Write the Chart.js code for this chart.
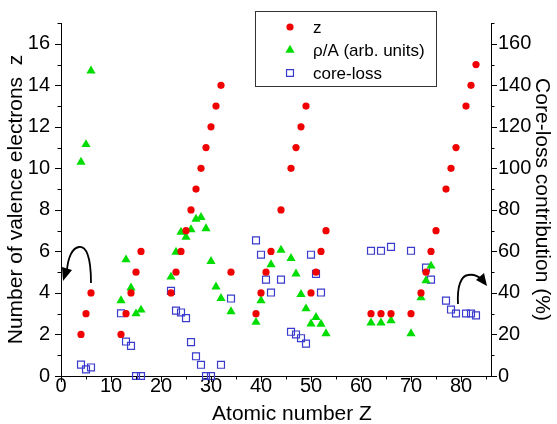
<!DOCTYPE html>
<html>
<head>
<meta charset="utf-8">
<script src="https://cdn.jsdelivr.net/npm/chart.js@4.4.1/dist/chart.umd.min.js"></script>
<style>
  html, body { margin: 0; padding: 0; background: #fff; }
</style>
</head>
<body>
<canvas id="myChart" width="557" height="424"></canvas>
<script>
// Valence electrons z (left axis)
var zAtomic = [4, 5, 6, 12, 13, 14, 15, 16, 22, 23, 24, 25, 26, 27, 28, 29, 30, 31, 32, 34, 39, 40, 41, 42, 44, 46, 47, 48, 49, 50, 51, 52, 53, 62, 64, 66, 70, 72, 73, 74, 75, 77, 78, 79, 81, 82, 83];
var zValues = [2, 3, 4, 2, 3, 4, 5, 6, 4, 5, 6, 7, 8, 9, 10, 11, 12, 13, 14, 5, 3, 4, 5, 6, 8, 10, 11, 12, 13, 4, 5, 6, 7, 3, 3, 3, 3, 4, 5, 6, 7, 9, 10, 11, 13, 14, 15];

// rho/A in arbitrary units (left axis)
var rhoAtomic = [4, 5, 6, 12, 13, 14, 15, 16, 22, 23, 24, 25, 26, 27, 28, 29, 30, 31, 32, 34, 39, 40, 42, 44, 46, 47, 48, 49, 50, 51, 52, 53, 62, 64, 66, 70, 72, 73, 74];
var rhoValues = [10.3, 11.15, 14.7, 3.63, 5.6, 4.25, 3.0, 3.18, 4.77, 5.97, 6.93, 6.69, 7.05, 7.56, 7.64, 7.1, 5.52, 4.29, 3.74, 3.1, 2.59, 3.63, 5.37, 6.06, 5.67, 4.92, 3.93, 3.24, 2.51, 2.83, 2.5, 2.04, 2.56, 2.56, 2.67, 2.04, 3.77, 4.6, 5.3];

// Core-loss contribution in % (right axis)
var coreAtomic = [4, 5, 6, 12, 13, 14, 15, 16, 22, 23, 24, 25, 26, 27, 28, 29, 30, 32, 34, 39, 40, 41, 42, 44, 46, 47, 48, 49, 50, 51, 52, 62, 64, 66, 70, 73, 74, 77, 78, 79, 81, 82, 83];
var coreValues = [5.5, 3.2, 4.1, 30.2, 16.6, 14.5, 0, 0, 41, 31.5, 30.6, 27.9, 16.3, 9.5, 5.4, 0, 0, 5.4, 37.3, 65.3, 58.4, 46.4, 40.2, 46.4, 21.3, 20, 18.2, 15.6, 58.4, 49.2, 40.2, 60.3, 60.3, 62.2, 60.3, 52.2, 46.4, 36.3, 32, 30.1, 30.1, 30.1, 29.2];

var seriesLabels = ['z', '\u03C1/A (arb. units)', 'core-loss'];
var xTitle = 'Atomic number Z';
var yTitle = 'Number of valence electrons  z';
var y2Title = 'Core-loss contribution (%)';

var FONT = "'Liberation Sans', Arial, sans-serif";
var RED = '#f00000';
var GREEN = '#00dd00';
var BLUE = '#3a3acc';

function toPoints(xs, ys) {
  var pts = [];
  for (var i = 0; i < xs.length; i++) {
    pts.push({ x: xs[i], y: ys[i] });
  }
  return pts;
}

var pointOpts = [
  { pointStyle: 'circle', radius: 3.6, fill: RED, stroke: RED, borderWidth: 0 },
  { pointStyle: 'triangle', radius: 5.3, fill: GREEN, stroke: GREEN, borderWidth: 0 },
  { pointStyle: 'rect', radius: 4.9, fill: 'rgba(0,0,0,0)', stroke: BLUE, borderWidth: 1.2 }
];

// Minor ticks, arrows, legend box and x axis title
var extras = {
  id: 'extras',
  afterDraw: function (chart) {
    var ctx = chart.ctx;
    var xs = chart.scales.x, ys = chart.scales.y, ys2 = chart.scales.y2;
    var area = chart.chartArea;
    var v, p, len;
    ctx.save();
    ctx.strokeStyle = '#000';
    ctx.lineWidth = 1;
    ctx.beginPath();
    for (v = 0; v <= 85; v += 5) {
      p = Math.round(xs.getPixelForValue(v)) + 0.5;
      len = v % 10 === 0 ? 6 : 3.5;
      ctx.moveTo(p, area.bottom);
      ctx.lineTo(p, area.bottom + len);
    }
    for (v = 0; v <= 17; v += 1) {
      p = Math.round(ys.getPixelForValue(v)) + 0.5;
      len = v % 2 === 0 ? 6 : 3.5;
      ctx.moveTo(area.left, p);
      ctx.lineTo(area.left - len, p);
    }
    for (v = 0; v <= 170; v += 10) {
      p = Math.round(ys2.getPixelForValue(v)) + 0.5;
      len = v % 20 === 0 ? 6 : 3.5;
      ctx.moveTo(area.right, p);
      ctx.lineTo(area.right + len, p);
    }
    ctx.stroke();

    // curved arrows pointing to each axis
    ctx.lineWidth = 1.8;
    ctx.beginPath();
    ctx.moveTo(91, 283);
    ctx.bezierCurveTo(91, 256, 86, 246, 79, 247);
    ctx.bezierCurveTo(72, 248, 68, 258, 67, 270);
    ctx.stroke();
    ctx.fillStyle = '#000';
    ctx.beginPath();
    ctx.moveTo(63, 281);
    ctx.lineTo(62, 267);
    ctx.lineTo(72, 270);
    ctx.closePath();
    ctx.fill();

    ctx.beginPath();
    ctx.moveTo(458, 304);
    ctx.bezierCurveTo(457, 286, 461, 276, 468, 275);
    ctx.bezierCurveTo(474, 274, 478, 276, 481, 279);
    ctx.stroke();
    ctx.beginPath();
    ctx.moveTo(487, 286);
    ctx.lineTo(476, 280);
    ctx.lineTo(484, 273);
    ctx.closePath();
    ctx.fill();

    // legend
    ctx.lineWidth = 1;
    ctx.strokeStyle = '#333';
    ctx.strokeRect(255.5, 11.5, 181, 75);
    ctx.font = '17px ' + FONT;
    ctx.textAlign = 'left';
    ctx.textBaseline = 'middle';
    var rows = [27, 50, 73];
    for (var i = 0; i < seriesLabels.length; i++) {
      var o = pointOpts[i];
      ctx.fillStyle = o.fill;
      ctx.strokeStyle = o.stroke;
      ctx.lineWidth = o.borderWidth;
      Chart.helpers.drawPoint(ctx, { pointStyle: o.pointStyle, radius: o.radius, rotation: 0, borderWidth: o.borderWidth }, 290, rows[i]);
      ctx.fillStyle = '#000';
      ctx.fillText(seriesLabels[i], 313, rows[i] + 1);
    }

    ctx.font = '21px ' + FONT;
    ctx.textAlign = 'center';
    ctx.fillText(xTitle, 292, 414);
    ctx.restore();
  }
};

var datasets = [];
var sets = [[zAtomic, zValues, 'y'], [rhoAtomic, rhoValues, 'y'], [coreAtomic, coreValues, 'y2']];
for (var k = 0; k < sets.length; k++) {
  datasets.push({
    label: seriesLabels[k],
    data: toPoints(sets[k][0], sets[k][1]),
    yAxisID: sets[k][2],
    pointStyle: pointOpts[k].pointStyle,
    pointRadius: pointOpts[k].radius,
    backgroundColor: pointOpts[k].fill,
    borderColor: pointOpts[k].stroke,
    borderWidth: pointOpts[k].borderWidth,
    showLine: false,
    clip: false
  });
}

var ctx = document.getElementById('myChart').getContext('2d');
window.myChart = new Chart(ctx, {
  type: 'scatter',
  data: { datasets: datasets },
  options: {
    responsive: false,
    animation: false,
    events: [],
    layout: { padding: { top: 17, left: 0, right: 0, bottom: 0 } },
    plugins: {
      legend: { display: false },
      tooltip: { enabled: false }
    },
    scales: {
      x: {
        type: 'linear',
        min: 0,
        max: 86,
        grid: { display: false, drawTicks: false },
        border: { display: true, color: '#000', width: 1 },
        ticks: { stepSize: 10, includeBounds: false, autoSkip: false, padding: -2, color: '#000', font: { family: FONT, size: 20 } },
        afterFit: function (s) { s.height = 48; }
      },
      y: {
        position: 'left',
        min: 0,
        max: 17,
        grid: { display: false, drawTicks: false },
        border: { display: true, color: '#000', width: 1 },
        ticks: { stepSize: 2, includeBounds: false, autoSkip: false, padding: 11, color: '#000', font: { family: FONT, size: 20 } },
        title: { display: true, text: yTitle, color: '#000', padding: { top: 4, bottom: 0 }, font: { family: FONT, size: 21 } },
        afterFit: function (s) { s.width = 61; }
      },
      y2: {
        position: 'right',
        min: 0,
        max: 170,
        grid: { display: false, drawTicks: false },
        border: { display: true, color: '#000', width: 1 },
        ticks: { stepSize: 20, includeBounds: false, autoSkip: false, padding: 7, color: '#000', font: { family: FONT, size: 20 } },
        title: { display: true, text: y2Title, color: '#000', padding: { top: 3, bottom: 0 }, font: { family: FONT, size: 21 } },
        afterFit: function (s) { s.width = 66; }
      }
    }
  },
  plugins: [extras]
});
</script>
</body>
</html>
